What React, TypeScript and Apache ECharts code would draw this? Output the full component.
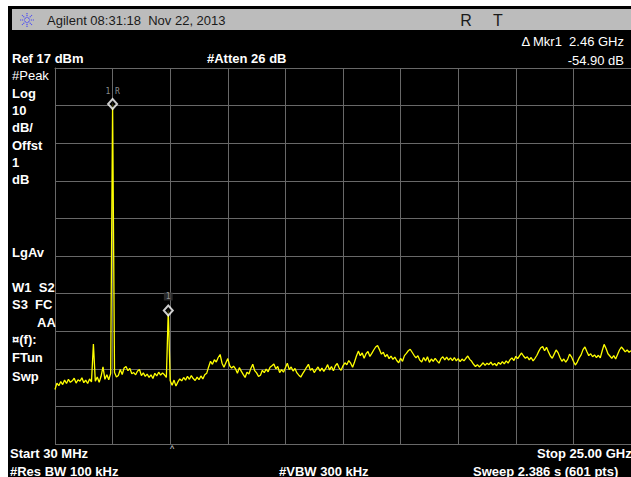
import React, { useEffect, useRef } from "react";
import * as echarts from "echarts";

// ---- data ----
const REF_LEVEL_DBM = 17;
const DB_PER_DIV = 10;
const NUM_DIVS = 10;
const POINTS_PER_DIV = 30;

// trace (dBm), 301 points from 30 MHz to 25 GHz
const TRACE_DBM = [
  -68.5, -66.8, -67.5, -66.4, -67.2, -66.0, -66.9, -65.8, -66.6, -66.2,
  -65.5, -66.8, -65.9, -66.3, -65.4, -66.7, -66.0, -66.9, -65.7, -66.5,
  -56.4,
  -66.3, -65.2, -66.6, -65.0,
  -62.5,
  -65.8, -64.6, -65.9, -64.2,
  7.4,
  -64.0, -65.2, -64.8,
  -63.2, -64.5, -62.8, -62.4, -63.5, -62.9, -64.3,
  -64.0, -64.6, -63.6, -63.2, -64.8, -64.1, -65.0, -64.4, -65.3, -64.6,
  -65.6, -64.2, -64.9, -63.9, -64.7, -64.1, -64.6, -65.3,
  -47.5,
  -66.2, -67.4, -66.0, -67.6, -66.5, -65.7,
  -66.2, -65.3, -66.0, -65.0, -65.8, -64.8, -65.6, -66.1, -65.2, -65.9,
  -64.9, -65.7, -64.6,
  -64.2, -62.5, -61.0, -61.8, -60.6, -61.2, -60.0, -59.2, -61.5, -62.6,
  -61.4, -60.3, -62.2, -62.8, -62.3,
  -63.0, -64.2, -62.7, -63.6, -64.5, -65.3, -63.9, -64.4, -62.9, -61.8,
  -63.5, -64.1, -65.0, -64.7, -63.4, -64.0, -63.1, -63.8, -62.6, -62.2,
  -61.7, -63.0, -62.4, -64.0, -63.2, -63.9, -62.7, -61.5, -63.2, -62.5,
  -63.6, -62.9, -64.1, -64.7, -65.2, -64.3, -63.5, -62.6, -61.8, -63.4,
  -62.9, -64.0, -63.2, -62.5, -63.6, -62.8, -63.7, -62.9, -61.9, -63.3,
  -62.4, -63.5, -62.2, -61.6, -62.8, -63.4,
  -62.2, -61.4, -61.9, -60.8, -61.5, -62.6, -61.2, -59.6, -58.3, -59.5,
  -58.8, -60.2, -59.0, -58.4, -59.7, -58.9, -58.0, -57.2, -56.8, -57.9,
  -59.1, -58.6, -59.8, -59.2, -60.3, -59.6, -60.5, -59.9, -60.8, -61.4,
  -60.2, -61.0, -59.5, -58.9, -58.2, -57.8, -58.6, -59.4, -60.1, -59.5,
  -60.7, -61.2, -60.0, -60.9, -59.8, -61.3, -60.4, -61.0, -60.2, -60.9,
  -61.5, -60.3, -59.8, -60.6, -59.9, -60.7, -60.1, -60.8, -60.0, -60.9,
  -60.3, -61.1, -60.4, -60.9, -60.2, -59.6, -60.5, -61.0, -61.8, -62.4,
  -61.9,
  -62.5, -62.0, -61.4, -62.1, -61.5, -61.9, -61.2, -62.0, -61.6, -62.2,
  -61.3, -61.8, -61.1, -61.7, -60.9, -61.5, -60.6, -60.1, -60.8, -59.7,
  -60.3, -59.5, -58.8, -59.6, -60.2, -59.8, -60.6, -60.0, -60.9, -60.2,
  -59.4, -58.3, -57.4, -57.1, -58.2, -57.3, -58.5, -59.6, -60.2, -59.1,
  -58.0, -58.7, -60.0, -61.0, -60.4, -61.2, -60.5, -59.1, -59.8, -61.0,
  -62.0, -61.2, -60.1, -59.3, -57.9, -57.2, -58.4, -59.5, -59.0, -59.8,
  -59.3, -60.0, -59.4, -60.1, -58.2, -56.5, -57.6, -59.0, -59.6, -60.2,
  -59.5, -60.4, -59.2, -58.0, -57.2, -57.8, -58.5, -58.0, -58.6, -58.2,
];

const MARKER_INDEX = [30, 59];
const MARKER_NAMES = ["1 R", "1"];

const HEADER_TEXT = "Agilent 08:31:18\u00a0\u00a0Nov 22, 2013";
const HEADER_FLAGS = ["R", "T"];
const MKR_TEXT = ["\u0394 Mkr1\u00a0\u00a02.46 GHz", "-54.90 dB"];
const TOP_TEXT = ["Ref 17 dBm", "#Atten 26 dB"];
const SIDE_TEXT = ["#Peak", "Log", "10", "dB/", "Offst", "1", "dB", "LgAv", "W1\u00a0\u00a0S2", "S3\u00a0\u00a0FC", "AA", "\u00a4(f):", "FTun", "Swp"];
const BOTTOM_TEXT = ["Start 30 MHz", "Stop 25.00 GHz", "#Res BW 100 kHz", "#VBW 300 kHz", "Sweep 2.386 s (601 pts)"];

const FONT = '"Liberation Sans", Arial, sans-serif';

export default function App() {
  const ref = useRef<HTMLDivElement>(null);

  useEffect(() => {
    if (!ref.current) return;
    const chart = echarts.init(ref.current, undefined, { renderer: "svg" });

    const gridColor = "#686868";
    const txt = (text: string, x: number, y: number, opts: any = {}) => ({
      type: "text",
      x,
      y,
      z: 10,
      style: {
        text,
        fill: opts.fill || "#fff",
        fontSize: opts.size || 13,
        fontWeight: opts.bold ? "bold" : "normal",
        fontFamily: opts.family || FONT,
        align: opts.align || "left",
        verticalAlign: "middle",
      },
    });

    const sideY = [75, 93, 110, 127, 145, 162, 179, 252, 287, 304, 322, 339, 357, 376];
    const sideGraphics = SIDE_TEXT.map((t, k) =>
      txt(t, t === "AA" ? 37 : 12, sideY[k], { bold: k !== 0 })
    );

    // logo rays
    const rays: any[] = [];
    for (let a = 0; a < 8; a++) {
      const ang = (a * Math.PI) / 4;
      rays.push({
        type: "line",
        z: 10,
        shape: {
          x1: 27 + Math.cos(ang) * 2,
          y1: 20 + Math.sin(ang) * 2,
          x2: 27 + Math.cos(ang) * 7,
          y2: 20 + Math.sin(ang) * 7,
        },
        style: { stroke: "#4b4bf5", lineWidth: 1.2, lineDash: [1.2, 0.8] },
      });
    }

    const option: any = {
      animation: false,
      backgroundColor: "#000",
      grid: { left: 55, top: 68, right: -9, bottom: 33, show: false },
      xAxis: {
        type: "value",
        min: 0,
        max: NUM_DIVS * POINTS_PER_DIV,
        interval: POINTS_PER_DIV,
        axisLabel: { show: false },
        axisTick: { show: false },
        axisLine: { show: true, lineStyle: { color: gridColor, width: 1 } },
        splitLine: { show: true, lineStyle: { color: gridColor, width: 1 } },
      },
      yAxis: {
        type: "value",
        min: -DB_PER_DIV * NUM_DIVS,
        max: 0,
        interval: DB_PER_DIV,
        axisLabel: { show: false },
        axisTick: { show: false },
        axisLine: { show: true, lineStyle: { color: gridColor, width: 1 } },
        splitLine: { show: true, lineStyle: { color: gridColor, width: 1 } },
      },
      series: [
        {
          type: "line",
          data: TRACE_DBM.map((v, i) => [i, v - REF_LEVEL_DBM]),
          symbol: "none",
          showSymbol: false,
          lineStyle: { color: "#ffff00", width: 1.3 },
          silent: true,
          z: 3,
        },
        {
          type: "scatter",
          symbol: "diamond",
          symbolSize: [9, 10],
          itemStyle: { color: "#000", borderColor: "#fff", borderWidth: 2 },
          z: 5,
          data: MARKER_INDEX.map((idx, k) => ({
            value: [idx, TRACE_DBM[idx] - REF_LEVEL_DBM],
            name: MARKER_NAMES[k],
            label: {
              show: true,
              position: "top",
              distance: k === 0 ? 3 : 4,
              formatter: "{b}",
              color: "#b0b0b0",
              fontSize: 8,
              fontFamily: "DejaVu Sans Mono",
              backgroundColor: k === 1 ? "#333" : "transparent",
              padding: k === 1 ? [0, 2] : 0,
            },
          })),
        },
      ],
      graphic: [
        { type: "rect", z: 10, shape: { x: 0, y: 0, width: 8, height: 477 }, style: { fill: "#fff" } },
        { type: "rect", z: 10, shape: { x: 0, y: 0, width: 631, height: 6 }, style: { fill: "#fff" } },
        { type: "rect", z: 10, shape: { x: 12, y: 9, width: 619, height: 21 }, style: { fill: "#bcbcbc" } },
        ...rays,
        txt(HEADER_TEXT, 47, 20.5, { fill: "#1a1a1a" }),
        txt(HEADER_FLAGS[0], 466, 20.5, { fill: "#1a1a1a", size: 16, align: "center" }),
        txt(HEADER_FLAGS[1], 498, 20.5, { fill: "#1a1a1a", size: 16, align: "center" }),
        txt(MKR_TEXT[0], 624, 41, { align: "right" }),
        txt(MKR_TEXT[1], 624, 60, { align: "right" }),
        txt(TOP_TEXT[0], 12, 58, { bold: true }),
        txt(TOP_TEXT[1], 207, 58, { bold: true }),
        ...sideGraphics,
        txt(BOTTOM_TEXT[0], 10, 453, { bold: true }),
        txt(BOTTOM_TEXT[1], 537, 453, { bold: true }),
        txt(BOTTOM_TEXT[2], 10, 471, { bold: true }),
        txt(BOTTOM_TEXT[3], 279, 471, { bold: true }),
        txt(BOTTOM_TEXT[4], 473, 471, { bold: true }),
        txt("^", 172, 449, { size: 9, align: "center", fill: "#ddd" }),
      ],
    };

    chart.setOption(option);
    return () => chart.dispose();
  }, []);

  return (
    <div
      ref={ref}
      style={{ position: "fixed", left: 0, top: 0, width: 631, height: 477 }}
    />
  );
}
